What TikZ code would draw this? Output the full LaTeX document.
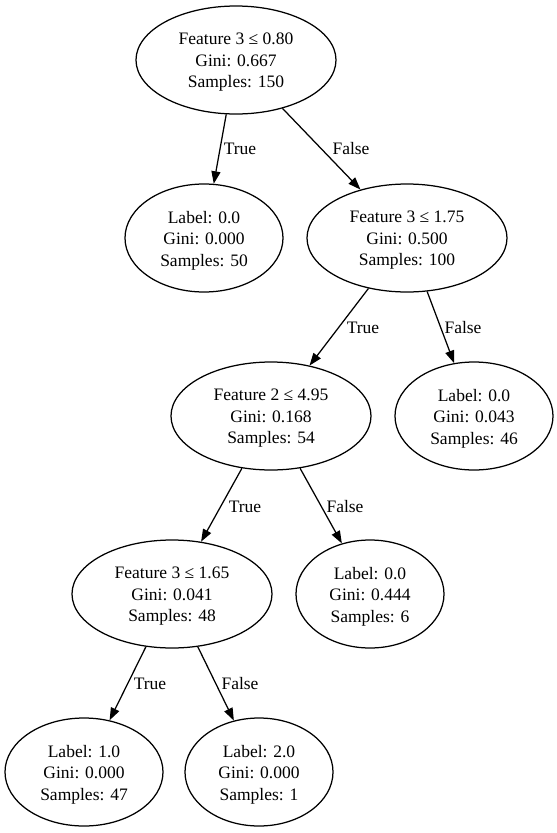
\documentclass[tikz,border=0pt]{standalone}
\usepackage{fontspec}
\setmainfont{Liberation Serif}
\usetikzlibrary{shapes.geometric,arrows.meta}
\tikzset{
  tnode/.style={draw=black, line width=1.25pt, ellipse, inner sep=0pt, minimum height=108pt},
  ntext/.style={inner sep=0pt, align=center, yshift=-2.5pt, font=\fontsize{17.5}{21.5}\selectfont},
  wide/.style={minimum width=200pt},
  mid/.style={minimum width=158pt},
  narrow/.style={minimum width=148pt},
  edge/.style={draw=black, line width=1.25pt, -{Triangle[length=12.5pt,width=9pt]}},
  elabel/.style={inner sep=0pt, font=\fontsize{17.5}{21.5}\selectfont}
}
\begin{document}
\begin{tikzpicture}[x=1pt,y=-1pt]
\useasboundingbox[fill=white] (0,0) rectangle (557,833);
\node[tnode,wide,label={[ntext]center:{Feature 3 ≤ 0.80\\Gini: 0.667\\Samples: 150}}]   (root) at (236,60)  {};
\node[tnode,mid,label={[ntext]center:{Label: 0.0\\Gini: 0.000\\Samples: 50}}]    (l0)   at (204,238) {};
\node[tnode,wide,label={[ntext]center:{Feature 3 ≤ 1.75\\Gini: 0.500\\Samples: 100}}]   (f175) at (407,238) {};
\node[tnode,wide,label={[ntext]center:{Feature 2 ≤ 4.95\\Gini: 0.168\\Samples: 54}}]   (f2)   at (271,416) {};
\node[tnode,mid,label={[ntext]center:{Label: 0.0\\Gini: 0.043\\Samples: 46}}]    (l043) at (474,416) {};
\node[tnode,wide,label={[ntext]center:{Feature 3 ≤ 1.65\\Gini: 0.041\\Samples: 48}}]   (f165) at (172,594) {};
\node[tnode,narrow,label={[ntext]center:{Label: 0.0\\Gini: 0.444\\Samples: 6}}] (l444) at (370,594) {};
\node[tnode,mid,label={[ntext]center:{Label: 1.0\\Gini: 0.000\\Samples: 47}}]    (l1)   at (84,772)  {};
\node[tnode,narrow,label={[ntext]center:{Label: 2.0\\Gini: 0.000\\Samples: 1}}] (l2)   at (259,772) {};

\draw[edge] (root) -- (l0);
\draw[edge] (root) -- (f175);
\draw[edge] (f175) -- (f2);
\draw[edge] (f175) -- (l043);
\draw[edge] (f2) -- (f165);
\draw[edge] (f2) -- (l444);
\draw[edge] (f165) -- (l1);
\draw[edge] (f165) -- (l2);

\node[elabel] (t1) at (240,149) {True};
\node[elabel] (fa1) at (351,149) {False};
\node[elabel] (t2) at (363,328) {True};
\node[elabel] (fa2) at (463,328) {False};
\node[elabel] (t3) at (245,507) {True};
\node[elabel] (fa3) at (345,507) {False};
\node[elabel] (t4) at (150,684) {True};
\node[elabel] (fa4) at (240,684) {False};
\end{tikzpicture}
\end{document}
